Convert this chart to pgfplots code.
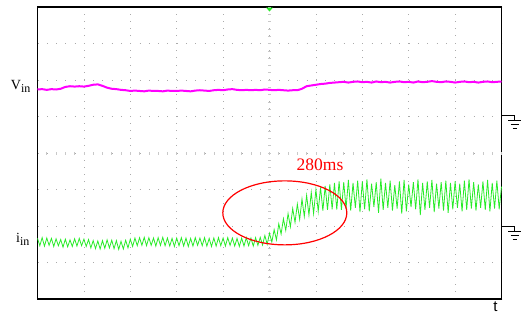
\documentclass[border=0pt]{standalone}
\usepackage{fontspec}
\setmainfont{Liberation Serif}
\newfontfamily\sansf{Liberation Sans}
\usepackage{pgfplots}
\pgfplotsset{compat=1.18}
\definecolor{scopegreen}{RGB}{40,235,40}
\definecolor{scopemag}{RGB}{255,0,255}
\definecolor{griddot}{RGB}{170,170,170}
\definecolor{gridtick}{RGB}{200,200,200}
\begin{document}
\begin{tikzpicture}
\begin{axis}[at={(0,0)}, anchor=south west, scale only axis,
  width=464pt, height=292pt,
  xmin=0, xmax=10, ymin=0, ymax=8,
  xtick={0,...,10}, ytick={0,...,8},
  xticklabels={}, yticklabels={},
  major tick length=0pt,
  grid=major,
  x grid style={griddot, line width=0.8pt, dash pattern=on 0.8pt off 6.5pt},
  y grid style={griddot, line width=0.8pt, dash pattern=on 0.8pt off 8.48pt},
  axis line style={line width=1.2pt},
  clip=false]
% centre graticule ticks
\pgfplotsinvokeforeach{0.2,0.4,...,9.9}{\draw[gridtick, line width=0.6pt] (axis cs:#1,4) ++(0,-1.5pt) -- ++(0,3pt);}
\pgfplotsinvokeforeach{0.2,0.4,...,7.9}{\draw[gridtick, line width=0.6pt] (axis cs:5,#1) ++(-1.5pt,0) -- ++(3pt,0);}
% v_in
\addplot[scopemag, line width=2pt] coordinates {
(0.0,5.74)(0.1,5.75)(0.2,5.73)(0.3,5.75)(0.4,5.74)(0.5,5.76)(0.6,5.81)(0.7,5.83)(0.8,5.82)(0.9,5.83)
(1.0,5.82)(1.1,5.84)(1.2,5.87)(1.3,5.88)(1.4,5.84)(1.5,5.79)(1.6,5.76)(1.7,5.75)(1.8,5.73)(1.9,5.72)
(2.0,5.70)(2.1,5.71)(2.2,5.70)(2.3,5.69)(2.4,5.71)(2.5,5.70)(2.6,5.70)(2.7,5.69)(2.8,5.71)(2.9,5.70)
(3.0,5.70)(3.1,5.71)(3.2,5.70)(3.3,5.69)(3.4,5.71)(3.5,5.72)(3.6,5.71)(3.7,5.70)(3.8,5.72)(3.9,5.73)
(4.0,5.72)(4.1,5.74)(4.2,5.75)(4.3,5.73)(4.4,5.72)(4.5,5.73)(4.6,5.72)(4.7,5.73)(4.8,5.72)(4.9,5.74)
(5.0,5.73)(5.1,5.72)(5.2,5.73)(5.3,5.72)(5.4,5.71)(5.5,5.72)(5.6,5.72)(5.7,5.76)(5.8,5.83)(5.9,5.85)
(6.0,5.87)(6.1,5.89)(6.2,5.90)(6.3,5.92)(6.4,5.93)(6.5,5.94)(6.6,5.95)(6.7,5.93)(6.8,5.95)(6.9,5.96)
(7.0,5.94)(7.1,5.95)(7.2,5.93)(7.3,5.96)(7.4,5.94)(7.5,5.95)(7.6,5.93)(7.7,5.95)(7.8,5.96)(7.9,5.94)
(8.0,5.95)(8.1,5.93)(8.2,5.96)(8.3,5.94)(8.4,5.95)(8.5,5.97)(8.6,5.95)(8.7,5.94)(8.8,5.96)(8.9,5.95)
(9.0,5.93)(9.1,5.95)(9.2,5.96)(9.3,5.94)(9.4,5.95)(9.5,5.93)(9.6,5.95)(9.7,5.96)(9.8,5.94)(9.9,5.95)
(10.0,5.96)
};
% i_in
\addplot[scopegreen, line width=0.8pt] coordinates {
(0.00,1.66)(0.05,1.46)(0.10,1.68)(0.15,1.45)(0.20,1.67)(0.25,1.47)(0.30,1.66)(0.35,1.44)(0.40,1.65)(0.45,1.46)
(0.50,1.63)(0.55,1.42)(0.60,1.64)(0.65,1.43)(0.70,1.62)(0.75,1.44)(0.80,1.65)(0.85,1.45)(0.90,1.66)(0.95,1.46)
(1.00,1.64)(1.05,1.44)(1.10,1.63)(1.15,1.40)(1.20,1.60)(1.25,1.38)(1.30,1.59)(1.35,1.37)(1.40,1.60)(1.45,1.39)
(1.50,1.62)(1.55,1.40)(1.60,1.61)(1.65,1.38)(1.70,1.60)(1.75,1.36)(1.80,1.58)(1.85,1.37)(1.90,1.61)(1.95,1.40)
(2.00,1.64)(2.05,1.44)(2.10,1.67)(2.15,1.46)(2.20,1.68)(2.25,1.47)(2.30,1.69)(2.35,1.46)(2.40,1.68)(2.45,1.47)
(2.50,1.67)(2.55,1.45)(2.60,1.68)(2.65,1.47)(2.70,1.69)(2.75,1.46)(2.80,1.67)(2.85,1.45)(2.90,1.66)(2.95,1.44)
(3.00,1.67)(3.05,1.46)(3.10,1.68)(3.15,1.45)(3.20,1.67)(3.25,1.44)(3.30,1.66)(3.35,1.45)(3.40,1.68)(3.45,1.47)
(3.50,1.67)(3.55,1.46)(3.60,1.68)(3.65,1.45)(3.70,1.66)(3.75,1.44)(3.80,1.67)(3.85,1.45)(3.90,1.68)(3.95,1.46)
(4.00,1.67)(4.05,1.45)(4.10,1.68)(4.15,1.47)(4.20,1.67)(4.25,1.45)(4.30,1.66)(4.35,1.44)(4.40,1.67)(4.45,1.45)
(4.50,1.68)(4.55,1.46)(4.60,1.67)(4.65,1.45)(4.70,1.68)(4.75,1.47)(4.80,1.69)(4.85,1.48)
(4.90,1.74)(4.95,1.50)(5.00,1.80)(5.05,1.56)(5.10,1.90)(5.15,1.62)(5.20,2.06)(5.25,1.78)(5.30,2.20)(5.35,1.88)
(5.40,2.34)(5.45,1.98)(5.50,2.48)(5.55,2.10)(5.60,2.60)(5.65,2.18)(5.70,2.74)(5.75,2.26)(5.80,2.84)(5.85,2.30)
(5.90,2.92)(5.95,2.34)(6.00,3.00)(6.05,2.40)(6.10,3.06)(6.15,2.42)(6.20,3.10)(6.25,2.44)(6.30,3.14)(6.35,2.46)
(6.40,3.18)(6.45,2.45)(6.50,3.22)
(6.55,2.44)(6.60,3.20)(6.65,2.48)(6.70,3.26)(6.75,2.42)(6.80,3.18)(6.85,2.50)(6.90,3.24)(6.95,2.38)
(7.00,3.22)(7.05,2.46)(7.10,3.28)(7.15,2.40)(7.20,3.16)(7.25,2.52)(7.30,3.20)(7.35,2.36)(7.40,3.30)(7.45,2.44)
(7.50,3.18)(7.55,2.50)(7.60,3.24)(7.65,2.42)(7.70,3.12)(7.75,2.48)(7.80,3.22)(7.85,2.34)(7.90,3.26)(7.95,2.40)
(8.00,3.14)(8.05,2.52)(8.10,3.20)(8.15,2.46)(8.20,3.28)(8.25,2.30)(8.30,3.18)(8.35,2.44)(8.40,3.22)(8.45,2.50)
(8.50,3.26)(8.55,2.38)(8.60,3.16)(8.65,2.48)(8.70,3.20)(8.75,2.42)(8.80,3.24)(8.85,2.36)(8.90,3.18)(8.95,2.46)
(9.00,3.22)(9.05,2.50)(9.10,3.16)(9.15,2.40)(9.20,3.24)(9.25,2.44)(9.30,3.28)(9.35,2.48)(9.40,3.20)(9.45,2.42)
(9.50,3.14)(9.55,2.50)(9.60,3.22)(9.65,2.44)(9.70,3.26)(9.75,2.40)(9.80,3.18)(9.85,2.48)(9.90,3.24)(9.95,2.46)
(10.00,3.08)
};
% ellipse and annotation
\draw[red, line width=1.2pt] (axis cs:5.33,2.36) ellipse [x radius=62pt, y radius=32pt];
\node[red, anchor=base, inner sep=0pt, font=\fontsize{17.5}{18}\selectfont] at (axis cs:6.09,3.51) {280ms};
% channel labels
\node[anchor=base east, inner sep=0pt, font=\fontsize{14}{14}\selectfont] at (axis cs:-0.15,5.73) {V\raisebox{-3pt}{\fontsize{12}{12}\selectfont in}};
\node[anchor=base east, inner sep=0pt, font=\fontsize{14}{14}\selectfont] at (axis cs:-0.17,1.55) {i\raisebox{-3pt}{\fontsize{12}{12}\selectfont in}};
\node[anchor=base, inner sep=0pt, font=\sansf\fontsize{15}{15}\selectfont] at (axis cs:9.87,-0.33) {t};
% ground symbols
\draw[line width=1pt] (axis cs:10,5.03) -- ++(13pt,0) -- ++(0,-5pt);
\draw[line width=1pt] (axis cs:10,5.03) ++(6.5pt,-5pt) -- ++(13pt,0);
\draw[line width=1pt] (axis cs:10,5.03) ++(9pt,-9pt) -- ++(8pt,0);
\draw[line width=1pt] (axis cs:10,5.03) ++(11pt,-13pt) -- ++(4pt,0);
\draw[line width=1pt] (axis cs:10,2.0) -- ++(13pt,0) -- ++(0,-5pt);
\draw[line width=1pt] (axis cs:10,2.0) ++(6.5pt,-5pt) -- ++(13pt,0);
\draw[line width=1pt] (axis cs:10,2.0) ++(9pt,-9pt) -- ++(8pt,0);
\draw[line width=1pt] (axis cs:10,2.0) ++(11pt,-13pt) -- ++(4pt,0);
% trigger marker
\fill[scopegreen] (axis cs:5,8) ++(-3.5pt,-0.5pt) -- ++(7pt,0) -- ++(-3.5pt,-4pt) -- cycle;
\end{axis}
\pgfresetboundingbox
\path[use as bounding box] (-37.5pt,-23pt) rectangle (483.5pt,299pt);
\end{tikzpicture}
\end{document}
